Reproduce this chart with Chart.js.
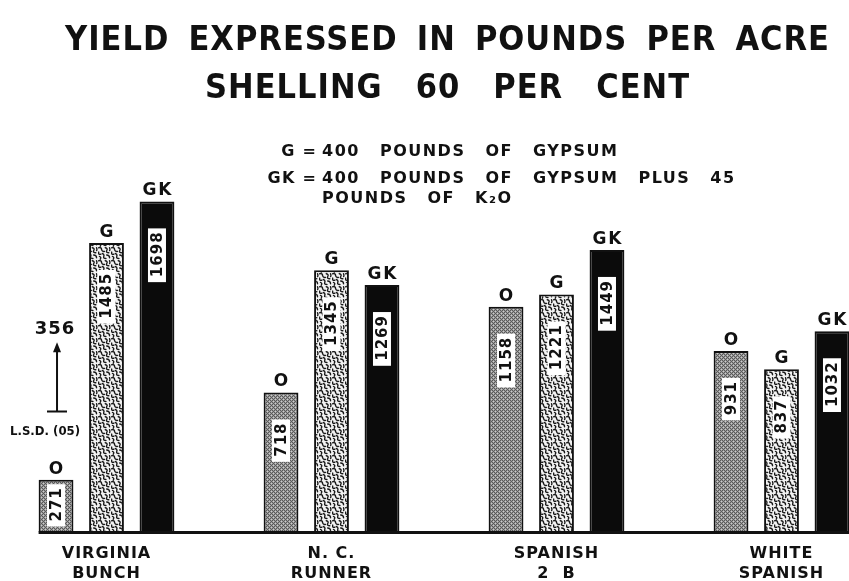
<!DOCTYPE html>
<html>
<head>
<meta charset="utf-8">
<script src="https://cdn.jsdelivr.net/npm/chart.js@4.4.0/dist/chart.umd.min.js"></script>
<style>
  html, body { margin: 0; padding: 0; background: #fff; overflow: hidden; }
  #wrap { position: relative; width: 849px; height: 581px; overflow: hidden; }
  #chart { position: absolute; left: -6px; top: 0; }
</style>
</head>
<body>
<div id="wrap"><canvas id="chart" width="900" height="581"></canvas></div>
<script>
// data
const categories = [["VIRGINIA", "BUNCH"], ["N. C.", "RUNNER"], ["SPANISH", "2  B"], ["WHITE", "SPANISH"]];
const treatments = ["O", "G", "GK"];
const yieldO = [271, 718, 1158, 931];
const yieldG = [1485, 1345, 1221, 837];
const yieldGK = [1698, 1269, 1449, 1032];
const lsd05 = 356;

const titleLines = ["YIELD EXPRESSED IN POUNDS PER ACRE", "SHELLING 60 PER CENT"];
const legendLines = [
  ["G", "400 POUNDS OF GYPSUM"],
  ["GK", "400 POUNDS OF GYPSUM PLUS 45"],
  ["", "POUNDS OF K₂O"]
];

const ink = "#111";
const canvas = document.getElementById("chart");
const mainCtx = canvas.getContext("2d");

// fine grey stipple for the untreated bars
function stipple() {
  const t = document.createElement("canvas");
  t.width = 4; t.height = 4;
  const c = t.getContext("2d");
  c.fillStyle = "#9c9c9c";
  c.fillRect(0, 0, 4, 4);
  c.fillStyle = "#5a5a5a";
  [[0, 0], [1, 1], [2, 2], [3, 3], [2, 0], [0, 2]].forEach(p => c.fillRect(p[0], p[1], 1, 1));
  c.fillStyle = "#cacaca";
  [[3, 1], [1, 3]].forEach(p => c.fillRect(p[0], p[1], 1, 1));
  return mainCtx.createPattern(t, "repeat");
}

// worm-like squiggles for the gypsum bars
function squiggle() {
  const t = document.createElement("canvas");
  t.width = 13; t.height = 13;
  const c = t.getContext("2d");
  c.fillStyle = "#f2f2f2";
  c.fillRect(0, 0, 13, 13);
  c.scale(13 / 18, 13 / 18);
  c.strokeStyle = "#1a1a1a";
  c.lineWidth = 1.9;
  c.lineCap = "round";
  c.beginPath();
  c.moveTo(1, 1); c.quadraticCurveTo(5, 0, 5, 4); c.quadraticCurveTo(6, 7, 9, 6);
  c.moveTo(10, 1); c.quadraticCurveTo(14, 2, 12, 5); c.quadraticCurveTo(11, 8, 15, 8);
  c.moveTo(16, 1); c.quadraticCurveTo(17, 4, 16, 5);
  c.moveTo(1, 7); c.quadraticCurveTo(0, 11, 4, 10);
  c.moveTo(6, 9); c.quadraticCurveTo(9, 10, 8, 13); c.quadraticCurveTo(7, 16, 11, 16);
  c.moveTo(12, 11); c.quadraticCurveTo(16, 11, 16, 15);
  c.moveTo(2, 13); c.quadraticCurveTo(5, 14, 3, 17);
  c.stroke();
  return mainCtx.createPattern(t, "repeat");
}

function drawWords(ctx, words, x, y, gap) {
  let cx = x;
  words.forEach(w => {
    ctx.fillText(w, cx, y);
    cx += ctx.measureText(w).width + gap;
  });
  return cx - gap;
}

function wordsWidth(ctx, words, gap) {
  return words.reduce((s, w) => s + ctx.measureText(w).width, 0) + gap * (words.length - 1);
}

const decorations = {
  id: "decorations",
  beforeDraw(chart) {
    chart.ctx.letterSpacing = "1px";
  },
  afterDatasetsDraw(chart) {
    const ctx = chart.ctx;
    const y = chart.scales.y;
    const base = chart.chartArea.bottom;
    ctx.save();
    ctx.strokeStyle = ink;

    // treatment letters and value tags
    chart.data.datasets.forEach((ds, di) => {
      chart.getDatasetMeta(di).data.forEach((bar, i) => {
        ctx.font = "bold 17px 'DejaVu Sans'";
        ctx.letterSpacing = "2px";
        ctx.textAlign = "center";
        ctx.textBaseline = "alphabetic";
        ctx.fillStyle = ink;
        ctx.fillText(ds.label, bar.x + 1, bar.y - 6);

        const txt = String(ds.data[i]);
        ctx.font = "bold 15px 'DejaVu Sans'";
        ctx.letterSpacing = "1px";
        const len = ctx.measureText(txt).width + 8;
        const thick = 18;
        const top = Math.min(bar.y + 27, base - len - 6);
        ctx.fillStyle = "#fff";
        ctx.fillRect(bar.x - thick / 2, top, thick, len);
        ctx.save();
        ctx.translate(bar.x, top + len / 2);
        ctx.rotate(-Math.PI / 2);
        ctx.fillStyle = ink;
        ctx.textBaseline = "middle";
        ctx.fillText(txt, 1, 1);
        ctx.restore();
      });
    });

    // baseline
    const first = chart.getDatasetMeta(0).data[0];
    ctx.lineWidth = 3;
    ctx.beginPath();
    ctx.moveTo(first.x - first.width / 2, base);
    ctx.lineTo(chart.chartArea.right, base);
    ctx.stroke();

    // L.S.D. arrow
    ctx.fillStyle = ink;
    const ax = first.x + 1;
    const y0 = y.getPixelForValue(620);
    const y1 = y.getPixelForValue(620 + lsd05);
    ctx.lineWidth = 2;
    ctx.beginPath();
    ctx.moveTo(ax, y0);
    ctx.lineTo(ax, y1 + 8);
    ctx.moveTo(ax - 10, y0);
    ctx.lineTo(ax + 10, y0);
    ctx.stroke();
    ctx.beginPath();
    ctx.moveTo(ax, y1);
    ctx.lineTo(ax - 4, y1 + 10);
    ctx.lineTo(ax + 4, y1 + 10);
    ctx.closePath();
    ctx.fill();
    ctx.textAlign = "center";
    ctx.textBaseline = "alphabetic";
    ctx.font = "bold 18px 'DejaVu Sans'";
    ctx.letterSpacing = "1px";
    ctx.fillText(String(lsd05), ax - 2, y1 - 8);
    ctx.font = "bold 13px 'DejaVu Sans Condensed'";
    ctx.letterSpacing = "0px";
    ctx.fillText("L.S.D. (05)", ax - 12, y0 + 23);

    ctx.restore();
  },
  afterDraw(chart) {
    const ctx = chart.ctx;
    ctx.save();
    ctx.translate(6, 0); // page coordinates
    ctx.fillStyle = ink;
    ctx.textAlign = "left";
    ctx.textBaseline = "alphabetic";

    // title: words spread to the width they take in the picture
    ctx.font = "bold 34px 'DejaVu Sans Condensed'";
    ctx.letterSpacing = "1px";
    const spans = [[65, 830], [205, 690]];
    titleLines.forEach((line, i) => {
      const words = line.split(" ");
      const raw = wordsWidth(ctx, words, 0);
      const gap = (spans[i][1] - spans[i][0] - raw) / (words.length - 1);
      drawWords(ctx, words, spans[i][0], 50 + i * 48, gap);
    });

    ctx.font = "bold 16px 'DejaVu Sans'";
    ctx.letterSpacing = "1.5px";
    const textX = 322;
    legendLines.forEach((row, i) => {
      const ly = 156 + i * 27 - (i === 2 ? 7 : 0);
      if (row[0]) {
        ctx.textAlign = "right";
        ctx.fillText(row[0], 296, ly);
        ctx.textAlign = "center";
        ctx.fillText("=", 310, ly);
      }
      ctx.textAlign = "left";
      drawWords(ctx, row[1].split(" "), textX, ly, 20);
    });
    ctx.restore();
  }
};

new Chart(canvas, {
  type: "bar",
  data: {
    labels: categories,
    datasets: [
      { label: treatments[0], data: yieldO, backgroundColor: stipple() },
      { label: treatments[1], data: yieldG, backgroundColor: squiggle() },
      { label: treatments[2], data: yieldGK, backgroundColor: "#0b0b0b" }
    ]
  },
  options: {
    responsive: false,
    animation: false,
    events: [],
    layout: { padding: { top: 181.5, left: 0, right: 0, bottom: 0 } },
    datasets: {
      bar: {
        borderColor: ink,
        borderWidth: 2,
        categoryPercentage: 0.673,
        barPercentage: 0.69
      }
    },
    plugins: {
      legend: { display: false },
      tooltip: { enabled: false },
      title: { display: false }
    },
    scales: {
      x: {
        grid: { display: false, drawTicks: false },
        border: { display: false },
        afterFit: (scale) => { scale.height = 48.5; },
        ticks: {
          color: ink,
          padding: 11,
          autoSkip: false,
          maxRotation: 0,
          font: { family: "'DejaVu Sans'", weight: "bold", size: 16, lineHeight: 1.28 }
        }
      },
      y: {
        display: false,
        min: 0,
        max: 1800
      }
    }
  },
  plugins: [decorations]
});
</script>
</body>
</html>
